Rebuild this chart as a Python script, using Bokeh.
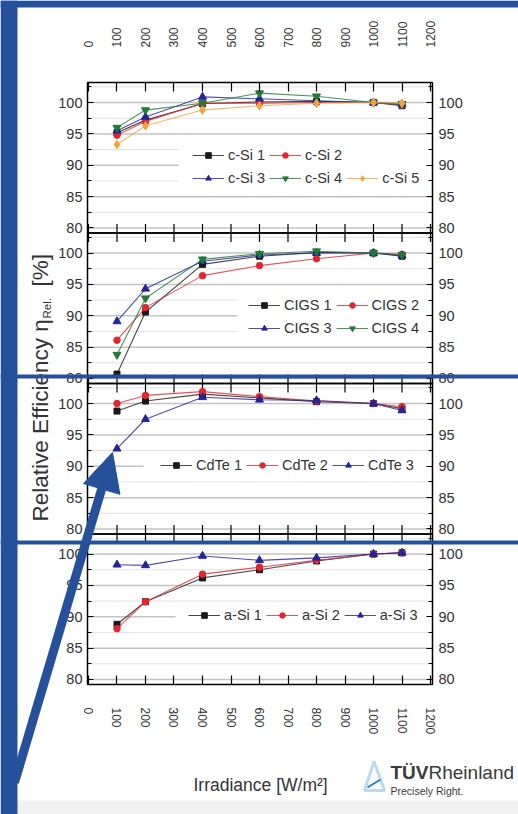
from bokeh.plotting import figure
from bokeh.models import (Range1d, LinearAxis, FixedTicker, CustomJSTickFormatter,
                          Legend, LegendItem, Label, BoxAnnotation, PolyAnnotation, Arrow,
                          NormalHead, ColumnDataSource)
from bokeh.embed import file_html
from bokeh.resources import INLINE

# ---------------- data ----------------
irradiance = [100, 200, 400, 600, 800, 1000, 1100]

csi_names = ["c-Si 1", "c-Si 2", "c-Si 3", "c-Si 4", "c-Si 5"]
csi_1 = [95.2, 97.2, 99.8, 100.1, 100.2, 100.0, 99.5]
csi_2 = [94.8, 97.0, 99.9, 99.9, 100.0, 100.0, 99.6]
csi_3 = [95.5, 97.7, 100.9, 100.6, 100.3, 100.0, 99.7]
csi_4 = [96.0, 98.8, 99.9, 101.5, 101.0, 100.0, 99.8]
csi_5 = [93.3, 96.3, 98.8, 99.5, 99.9, 100.0, 99.9]

cigs_names = ["CIGS 1", "CIGS 2", "CIGS 3", "CIGS 4"]
cigs_1 = [80.7, 90.6, 98.2, 99.5, 100.1, 100.0, 99.5]
cigs_2 = [86.1, 91.3, 96.4, 98.0, 99.1, 100.0, 99.8]
cigs_3 = [89.1, 94.3, 98.7, 99.7, 100.0, 100.0, 99.6]
cigs_4 = [83.8, 92.8, 99.0, 99.9, 100.3, 100.0, 99.7]

cdte_names = ["CdTe 1", "CdTe 2", "CdTe 3"]
cdte_1 = [98.8, 100.4, 101.5, 100.9, 100.3, 100.0, 99.2]
cdte_2 = [100.0, 101.3, 101.9, 101.1, 100.4, 100.0, 99.5]
cdte_3 = [92.8, 97.5, 101.0, 100.6, 100.5, 100.0, 98.9]

asi_names = ["a-Si 1", "a-Si 2", "a-Si 3"]
asi_1 = [88.8, 92.4, 96.2, 97.5, 98.9, 100.0, 100.2]
asi_2 = [88.1, 92.4, 96.8, 97.9, 99.0, 100.0, 100.2]
asi_3 = [98.3, 98.2, 99.7, 99.0, 99.4, 100.0, 100.2]

x_ticks = [0, 100, 200, 300, 400, 500, 600, 700, 800, 900, 1000, 1100, 1200]
y_major = [80, 85, 90, 95, 100]
y_minor = [82.5, 87.5, 92.5, 97.5, 102.5]

panels = [
    (csi_names, [csi_1, csi_2, csi_3, csi_4, csi_5]),
    (cigs_names, [cigs_1, cigs_2, cigs_3, cigs_4]),
    (cdte_names, [cdte_1, cdte_2, cdte_3]),
    (asi_names, [asi_1, asi_2, asi_3]),
]

# ---------------- styles ----------------
colors = ["#1a1a1a", "#e3262e", "#23239a", "#1e7b34", "#f2a43a"]
markers = ["square", "circle", "triangle", "inverted_triangle", "diamond"]
msizes = [6, 6.5, 8, 8, 8.5]
BLUE = "#25509a"
SANS = "Liberation Sans"
TXT = "#333333"

W, H = 518, 814
S = 24.0          # vertical span of one panel (data units)
YTOP = 103.2
Y0, Y1 = YTOP - 4 * S, YTOP       # panel block, data units
X0, X1 = -3.5, 1207.0
PL, PR, PT, PB = 87, 432, 82, 684  # panel block in page pixels

def dx(X):
    return X0 + (X - PL) * (X1 - X0) / (PR - PL)

def dy(Y):
    return Y1 - (Y - PT) * (Y1 - Y0) / (PB - PT)

p = figure(width=W, height=H, x_range=Range1d(dx(0), dx(W)), y_range=Range1d(dy(H), dy(0)),
           x_axis_type=None, y_axis_type=None, output_backend="svg", toolbar_location=None,
           min_border_left=0, min_border_right=0, min_border_top=0, min_border_bottom=0,
           background_fill_color="white", border_fill_color="white", outline_line_color=None)

# ---------------- axes (fixed at the panel block edges) ----------------
yt = FixedTicker(ticks=[v - S * k for k in range(4) for v in y_major],
                 minor_ticks=[v - S * k for k in range(4) for v in y_minor])
yfmt = CustomJSTickFormatter(code="let v = tick; while (v < 78) { v += 24; } return v.toFixed(0);")
for side, so, loc in (("left", 5, X0), ("right", 6, X1)):
    ax = LinearAxis(ticker=yt, formatter=yfmt, axis_line_color=None, fixed_location=loc,
                    major_tick_in=6, major_tick_out=0, minor_tick_in=4, minor_tick_out=0,
                    major_tick_line_color="black", minor_tick_line_color="black",
                    major_label_text_font=SANS, major_label_text_font_size="14.5px",
                    major_label_text_color=TXT, major_label_standoff=so)
    p.add_layout(ax, side)

xt = FixedTicker(ticks=x_ticks, minor_ticks=[])
for side, so, loc in (("above", 35, Y1), ("below", 23, Y0)):
    ax = LinearAxis(ticker=xt, axis_line_color=None, fixed_location=loc,
                    major_tick_in=9, major_tick_out=0, minor_tick_in=0, minor_tick_out=0,
                    major_tick_line_color="black", major_tick_line_width=1.2,
                    major_label_orientation="vertical",
                    major_label_text_font=SANS, major_label_text_font_size="12px",
                    major_label_text_color=TXT, major_label_standoff=so)
    p.add_layout(ax, side)

# horizontal grid lines inside the panels
gmaj = [v - S * k for k in range(4) for v in y_major]
gmin = [v - S * k for k in range(4) for v in y_minor]
p.segment(x0=[X0] * len(gmin), x1=[X1] * len(gmin), y0=gmin, y1=gmin,
          line_color="#e2e2e2", line_width=1, level="underlay")
p.segment(x0=[X0] * len(gmaj), x1=[X1] * len(gmaj), y0=gmaj, y1=gmaj,
          line_color="#c4c4c4", line_width=1.5, level="underlay")

# white boxes behind legends (hide grid lines)
lb = [(178, 145, 188), (237, 292, 337), (143, 455, 475), (175, 605, 625)]
p.quad(left=[dx(l) for l, t, b in lb], right=[dx(PR)] * len(lb),
       top=[dy(t) for l, t, b in lb], bottom=[dy(b) for l, t, b in lb],
       fill_color="white", line_alpha=0, level="underlay")

# inner x ticks on shared panel edges
bounds = [YTOP - S * k for k in (1, 2, 3)]
tick_len = 9 * (Y1 - Y0) / (PB - PT)
seg_x = [t for yb in bounds for t in x_ticks]
seg_y0 = [yb - tick_len for yb in bounds for t in x_ticks]
seg_y1 = [yb + tick_len for yb in bounds for t in x_ticks]
p.segment(x0=seg_x, y0=seg_y0, x1=seg_x, y1=seg_y1, line_color="black", line_width=1.2)

# ---------------- series + legends ----------------
legend_rows = [
    [(["c-Si 1", "c-Si 2"], 192, 155), (["c-Si 3", "c-Si 4", "c-Si 5"], 192, 178)],
    [(["CIGS 1", "CIGS 2"], 248, 305), (["CIGS 3", "CIGS 4"], 248, 328)],
    [(["CdTe 1", "CdTe 2", "CdTe 3"], 160, 465)],
    [(["a-Si 1", "a-Si 2", "a-Si 3"], 188, 615)],
]

for k, (names, series) in enumerate(panels):
    items = {}
    for i, (name, vals) in enumerate(zip(names, series)):
        src = ColumnDataSource(dict(x=irradiance, y=[v - S * k for v in vals]))
        lr = p.line("x", "y", source=src, line_color=colors[i], line_width=1.1, line_alpha=0.8)
        sr = p.scatter("x", "y", source=src, marker=markers[i], size=msizes[i],
                       fill_color=colors[i], line_color=colors[i])
        items[name] = LegendItem(label=name, renderers=[lr, sr])
    for row_names, gx, cy in legend_rows[k]:
        leg = Legend(items=[items[n] for n in row_names], location=(gx, H - (cy + 10)),
                     orientation="horizontal", glyph_width=32, glyph_height=14, label_height=20,
                     label_standoff=4, spacing=4, padding=0, margin=0,
                     background_fill_alpha=0, border_line_alpha=0,
                     label_text_font=SANS, label_text_font_size="14.5px", label_text_color=TXT)
        p.add_layout(leg)

# panel frames
p.quad(left=[X0] * 4, right=[X1] * 4, top=[YTOP - S * k for k in range(4)],
       bottom=[YTOP - S * (k + 1) for k in range(4)], fill_alpha=0,
       line_color="black", line_width=1.5)

# ---------------- slide background bits (under texts) ----------------
p.add_layout(BoxAnnotation(left=dx(17), right=dx(W), top=dy(800), bottom=dy(H),
                           fill_color="#f1f1f1", fill_alpha=1, line_alpha=0, level="underlay"))

# ---------------- texts ----------------
p.add_layout(Label(x=dx(40), y=dy(521), text="Relative Efficiency η", angle=90, angle_units="deg",
                   text_align="left", text_baseline="middle", text_font=SANS,
                   text_font_size="22.5px", text_color=TXT))
p.add_layout(Label(x=dx(46.5), y=dy(318), text="Rel.", angle=90, angle_units="deg",
                   text_align="left", text_baseline="middle", text_font=SANS,
                   text_font_size="11.5px", text_color=TXT))
p.add_layout(Label(x=dx(40), y=dy(286), text="[%]", angle=90, angle_units="deg",
                   text_align="left", text_baseline="middle", text_font=SANS,
                   text_font_size="22.5px", text_color=TXT))
p.add_layout(Label(x=dx(193), y=dy(784), text="Irradiance [W/m²]", text_align="left",
                   text_baseline="middle", text_font=SANS, text_font_size="17.5px",
                   text_color=TXT))

# TÜV Rheinland logo
p.add_layout(PolyAnnotation(xs=[dx(373.5), dx(364), dx(384)], ys=[dy(761), dy(790), dy(790)],
                            fill_alpha=0, line_color="#1f86c8", line_width=3, level="overlay"))
p.add_layout(Arrow(x_start=dx(367), y_start=dy(787), x_end=dx(380), y_end=dy(779), start=None,
                   end=None, line_color="#1f86c8", line_width=2, level="overlay"))
p.add_layout(Label(x=dx(390), y=dy(772), text="TÜV", text_align="left", text_baseline="middle",
                   text_font=SANS, text_font_style="bold", text_font_size="19px", text_color="#3a3a3a"))
p.add_layout(Label(x=dx(428), y=dy(772), text="Rheinland", text_align="left",
                   text_baseline="middle", text_font=SANS, text_font_size="19px",
                   text_color="#3a3a3a"))
p.add_layout(Label(x=dx(390), y=dy(790), text="Precisely Right.", text_align="left",
                   text_baseline="middle", text_font=SANS, text_font_size="10.5px",
                   text_color="#3a3a3a"))

# ---------------- slide overlays ----------------
p.add_layout(BoxAnnotation(left=dx(0), right=dx(17), top=dy(0), bottom=dy(H),
                           fill_color=BLUE, fill_alpha=1, line_alpha=0, level="overlay"))
p.add_layout(BoxAnnotation(left=dx(0), right=dx(W), top=dy(0), bottom=dy(7),
                           fill_color=BLUE, fill_alpha=1, line_alpha=0, level="overlay"))
for (t, b) in ((374, 378), (540, 544)):
    p.add_layout(BoxAnnotation(left=dx(0), right=dx(W), top=dy(t), bottom=dy(b),
                               fill_color=BLUE, fill_alpha=1, line_alpha=0, level="overlay"))
p.add_layout(Arrow(x_start=dx(14), y_start=dy(782), x_end=dx(112), y_end=dy(452),
                   line_color=BLUE, line_width=9, level="overlay",
                   end=NormalHead(size=38, fill_color=BLUE, line_color=BLUE, line_width=1)))

open("out.html", "w").write(file_html(p, INLINE))
